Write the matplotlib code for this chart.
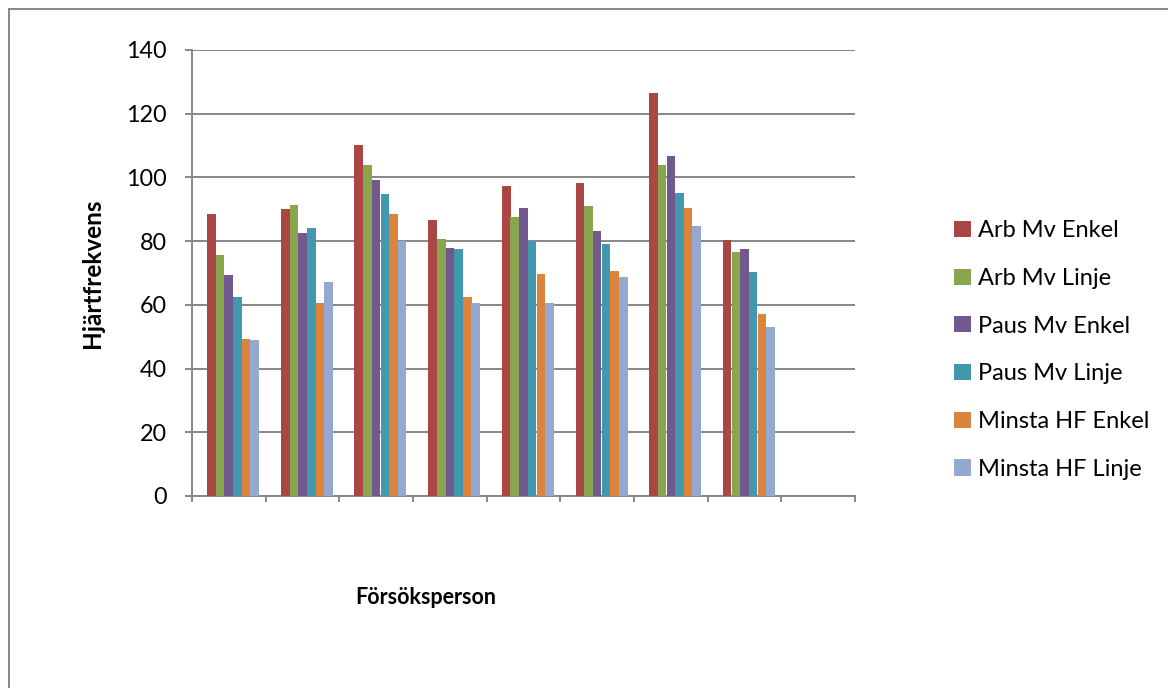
import numpy as np
import matplotlib
matplotlib.use("Agg")
import matplotlib.pyplot as plt
from matplotlib.lines import Line2D

plt.rcParams['font.family'] = ['Lato', 'DejaVu Sans']

# Nine test persons (the last slot holds no data)
persons = ["1", "2", "3", "4", "5", "6", "7", "8", "9"]

arb_mv_enkel = [88.6, 90.2, 110.3, 86.6, 97.4, 98.3, 126.4, 80.3]
arb_mv_linje = [75.7, 91.3, 103.8, 80.6, 87.5, 91.0, 104.0, 76.6]
paus_mv_enkel = [69.4, 82.5, 99.3, 77.8, 90.5, 83.2, 106.6, 77.5]
paus_mv_linje = [62.6, 84.0, 94.8, 77.5, 80.2, 79.1, 95.1, 70.3]
minsta_hf_enkel = [49.2, 60.7, 88.5, 62.4, 69.6, 70.7, 90.4, 57.2]
minsta_hf_linje = [49.0, 67.1, 79.9, 60.5, 60.5, 68.7, 84.6, 53.0]

series_names = ["Arb Mv Enkel", "Arb Mv Linje", "Paus Mv Enkel",
                "Paus Mv Linje", "Minsta HF Enkel", "Minsta HF Linje"]
series_values = [arb_mv_enkel, arb_mv_linje, paus_mv_enkel,
                 paus_mv_linje, minsta_hf_enkel, minsta_hf_linje]
colors = ["#AA4643", "#89A54E", "#71588F", "#4198AF", "#DB843D", "#93A9CF"]

yticks = [0, 20, 40, 60, 80, 100, 120, 140]

W, H = 1168, 688
fig = plt.figure(figsize=(W / 100, H / 100), dpi=100)
ax = fig.add_axes([192 / W, 1 - 496 / H, 663 / W, 446 / H])

grey = "#878787"

# Seven bar slots per person (first slot is an empty series), gap = 1.5 bar widths
n_slots = 7
bar_w = 1.0 / (n_slots + 1.5)
x = np.arange(len(persons))
for k, (name, vals, col) in enumerate(zip(series_names, series_values, colors), start=1):
    offs = (k - (n_slots - 1) / 2) * bar_w
    ax.bar(x[:len(vals)] + offs, vals, width=bar_w, color=col, label=name,
           edgecolor="none", zorder=3)

ax.set_xlim(-0.5, len(persons) - 0.5)
ax.set_ylim(0, 140)
ax.set_yticks(yticks)
ax.set_yticklabels([str(v) for v in yticks], fontsize=16.8)
ax.set_xticks(np.arange(len(persons) + 1) - 0.5)
ax.set_xticklabels([])
ax.yaxis.grid(True, color=grey, linewidth=1.4, zorder=0)
ax.set_axisbelow(True)
for s in ["top", "right"]:
    ax.spines[s].set_visible(False)
for s in ["left", "bottom"]:
    ax.spines[s].set_color(grey)
    ax.spines[s].set_linewidth(1.4)
ax.tick_params(axis="y", length=5, width=1.4, color=grey, pad=13, labelcolor="black")
ax.tick_params(axis="x", length=4.5, width=1.4, color=grey)

fig.text(93 / W, 1 - 273 / H, "Hjärtfrekvens", rotation=90, fontsize=17.5,
         fontweight="bold", ha="center", va="center")
fig.text(426 / W, 1 - 597 / H, "Försöksperson", fontsize=15.5,
         fontweight="bold", ha="center", va="center")

leg = fig.legend(loc="center left", bbox_to_anchor=(945 / W, 1 - 350 / H),
                 frameon=False, fontsize=17, handlelength=0.68, handleheight=0.68,
                 handletextpad=0.3, labelspacing=1.13, borderaxespad=0)

# Chart-area outline
fig.add_artist(Line2D([8.5 / W, 8.5 / W], [0, 1 - 8.5 / H], color=grey, linewidth=1.4,
                      transform=fig.transFigure))
fig.add_artist(Line2D([8.5 / W, 1], [1 - 8.5 / H, 1 - 8.5 / H], color=grey, linewidth=1.4,
                      transform=fig.transFigure))

fig.savefig("out.png", dpi=100, facecolor="white")
